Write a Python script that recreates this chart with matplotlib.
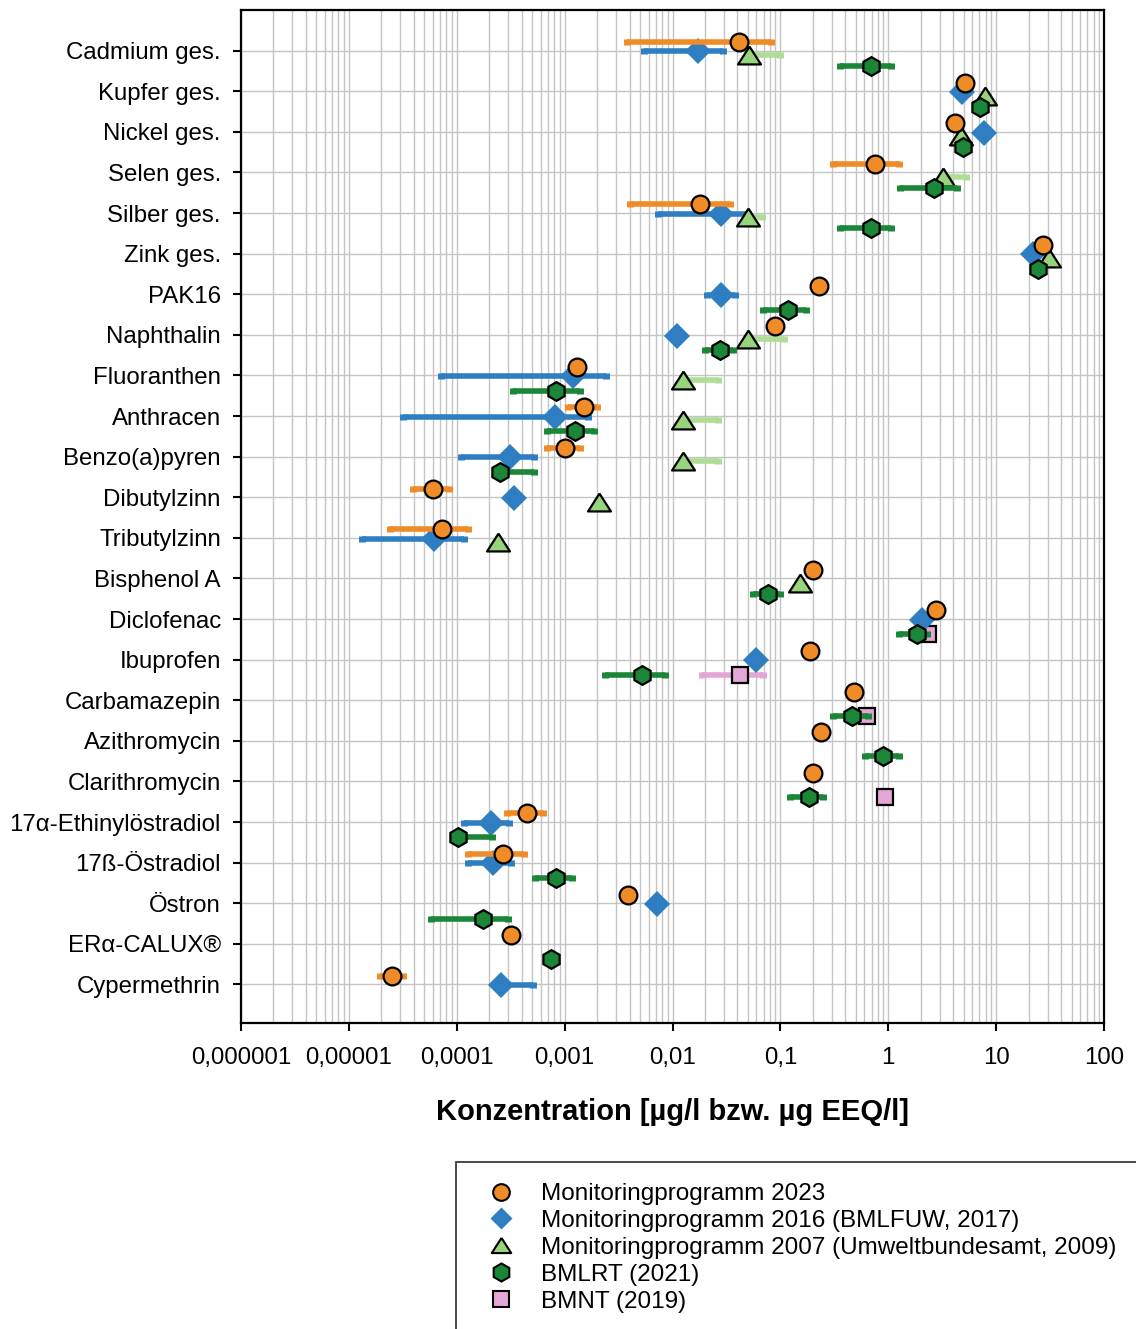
import numpy as np
import matplotlib.pyplot as plt
from matplotlib.lines import Line2D
from matplotlib.patches import Rectangle
from matplotlib.ticker import LogLocator, NullFormatter

plt.rcParams['font.family'] = ['Liberation Sans', 'DejaVu Sans']

n = np.nan

substances = ["Cadmium ges.", "Kupfer ges.", "Nickel ges.", "Selen ges.", "Silber ges.",
              "Zink ges.", "PAK16", "Naphthalin", "Fluoranthen", "Anthracen",
              "Benzo(a)pyren", "Dibutylzinn", "Tributylzinn", "Bisphenol A", "Diclofenac",
              "Ibuprofen", "Carbamazepin", "Azithromycin", "Clarithromycin",
              "17α-Ethinylöstradiol", "17ß-Östradiol", "Östron", "ERα-CALUX®", "Cypermethrin"]

# Monitoringprogramm 2023 (mean, min, max) in µg/l
mp2023 = [0.041, 5.2, 4.2, 0.75, 0.018, 27, 0.23, 0.089, 0.0013, 0.0015,
          0.00101, 6.05e-5, 7.35e-5, 0.20, 2.76, 0.19, 0.48, 0.24, 0.20,
          0.00045, 0.00027, 0.0039, 0.00032, 2.52e-5]
mp2023_lo = [0.0038, n, n, 0.31, 0.0040, n, n, n, n, 0.00108,
             0.00068, 3.9e-5, 2.4e-5, n, n, n, n, n, n,
             0.00029, 0.000128, n, n, 1.94e-5]
mp2023_hi = [0.082, n, n, 1.26, 0.034, n, n, n, n, 0.00198,
             0.00139, 8.5e-5, 0.000128, n, n, n, n, n, n,
             0.00063, 0.00042, n, n, 3.2e-5]

# Monitoringprogramm 2016 (BMLFUW, 2017)
mp2016 = [0.0171, 4.78, 7.74, n, 0.028, 22, 0.028, 0.0111, 0.0012, 0.00081,
          0.00031, 0.00034, 6.2e-5, n, 2.04, 0.060, n, n, n,
          0.000206, 0.000218, 0.0072, n, 0.000257]
mp2016_lo = [0.0055, n, n, n, 0.0074, n, 0.0207, n, 7.15e-5, 3.2e-5,
             0.000109, n, 1.31e-5, n, n, n, n, n, n,
             0.000117, 0.000128, n, n, 0.000257]
mp2016_hi = [0.0295, n, n, n, 0.050, n, 0.0378, n, 0.0024, 0.00166,
             0.00052, n, 0.000117, n, n, n, n, n, n,
             0.000307, 0.000316, n, n, 0.00051]

# Monitoringprogramm 2007 (Umweltbundesamt, 2009)
mp2007 = [0.051, 7.86, 4.71, 3.23, 0.050, 31, n, 0.050, 0.0125, 0.0125,
          0.0125, 0.00208, 0.000243, 0.152, n, n, n, n, n,
          n, n, n, n, n]
mp2007_lo = [0.051, n, n, 3.23, 0.050, n, n, 0.050, 0.0125, 0.0125,
             0.0125, n, n, n, n, n, n, n, n,
             n, n, n, n, n]
mp2007_hi = [0.099, n, n, 5.3, 0.067, n, n, 0.107, 0.0266, 0.0266,
             0.0266, n, n, n, n, n, n, n, n,
             n, n, n, n, n]

# BMLRT (2021)
bmlrt = [0.69, 7.06, 4.95, 2.67, 0.69, 24.2, 0.117, 0.0275, 0.00084, 0.00124,
         0.00025, n, n, 0.076, 1.83, 0.0052, 0.463, 0.897, 0.185,
         0.000102, 0.00084, 0.000174, 0.00074, n]
bmlrt_lo = [0.356, n, n, 1.28, 0.356, n, 0.069, 0.0199, 0.00033, 0.00068,
            0.00025, n, n, 0.056, 1.26, 0.00237, 0.308, 0.607, 0.122,
            0.000102, 0.00053, 5.77e-5, n, n]
bmlrt_hi = [1.07, n, n, 4.3, 1.07, n, 0.171, 0.0367, 0.00139, 0.00187,
            0.00052, n, n, 0.099, 2.3, 0.0085, 0.65, 1.27, 0.25,
            0.000213, 0.00117, 0.0003, n, n]

# BMNT (2019)
bmnt = [n] * 14 + [2.34, 0.0422, 0.638, n, 0.929] + [n] * 5
bmnt_lo = [n] * 15 + [0.0186] + [n] * 8
bmnt_hi = [n] * 15 + [0.0684] + [n] * 8

labels = ["Monitoringprogramm 2023", "Monitoringprogramm 2016 (BMLFUW, 2017)",
          "Monitoringprogramm 2007 (Umweltbundesamt, 2009)", "BMLRT (2021)", "BMNT (2019)"]

c_orange = '#F08C28'
c_blue = '#2E7EC1'
c_lgreen = '#98D47C'
c_lgreen_bar = '#AEDD94'
c_dgreen = '#1B8538'
c_pink = '#E4A6D6'

# flat triangle (closed path)
tri = [(0, 0.78), (-1, -0.78), (1, -0.78), (0, 0.78)]


def draw_series(ax, vals, lo, hi, offset, color, bar_color, marker, ms, mec, z):
    vals = np.array(vals, float)
    lo = np.array(lo, float)
    hi = np.array(hi, float)
    y = np.arange(len(vals)) + offset
    has = ~np.isnan(lo)
    if has.any():
        ax.errorbar(vals[has], y[has], xerr=[vals[has] - lo[has], hi[has] - vals[has]],
                    fmt='none', ecolor=bar_color, elinewidth=4, capsize=2.5,
                    capthick=5, zorder=z)
    ax.plot(vals, y, ls='none', marker=marker, ms=ms, mfc=color, mec=mec,
            mew=1.6, zorder=z + 0.5)


fig = plt.figure(figsize=(11.36, 13.29), dpi=100)
ax = fig.add_axes([241 / 1136, 1 - 1023 / 1329, 863 / 1136, 1013 / 1329])

draw_series(ax, bmnt, bmnt_lo, bmnt_hi, 0.38, c_pink, c_pink, 's', 11.5, 'black', 2)
draw_series(ax, mp2016, mp2016_lo, mp2016_hi, 0.02, c_blue, c_blue, 'D', 13.3, 'none', 3)
draw_series(ax, mp2007, mp2007_lo, mp2007_hi, 0.11, c_lgreen, c_lgreen_bar, tri, 16.5, 'black', 4)
draw_series(ax, bmlrt, bmlrt_lo, bmlrt_hi, 0.38, c_dgreen, c_dgreen, 'h', 13.5, 'black', 5)
draw_series(ax, mp2023, mp2023_lo, mp2023_hi, -0.21, c_orange, c_orange, 'o', 12.8, 'black', 6)

ax.set_xscale('log')
ax.set_xlim(1e-6, 100)
ax.set_ylim(23.95, -1.0)

xticks = [1e-6, 1e-5, 1e-4, 1e-3, 1e-2, 1e-1, 1, 10, 100]
xticklabels = ["0,000001", "0,00001", "0,0001", "0,001", "0,01", "0,1", "1", "10", "100"]
ax.set_xticks(xticks, xticklabels)
ax.xaxis.set_minor_locator(LogLocator(base=10, subs=np.arange(2, 10)))
ax.xaxis.set_minor_formatter(NullFormatter())
ax.set_yticks(np.arange(len(substances)), substances)

ax.tick_params(axis='x', which='major', direction='out', length=6, width=1.5,
               labelsize=17.3, pad=11.5)
ax.tick_params(axis='x', which='minor', length=0)
ax.tick_params(axis='y', direction='out', length=5.5, width=1.5, labelsize=17.3, pad=9)

ax.grid(True, which='both', axis='x', color='#C4C4C4', lw=1.0, zorder=0)
ax.grid(True, which='major', axis='y', color='#C4C4C4', lw=1.0, zorder=0)
ax.set_axisbelow(True)
for sp in ax.spines.values():
    sp.set_linewidth(1.6)
    sp.set_color('black')

ax.set_xlabel("Konzentration [µg/l bzw. µg EEQ/l]", fontsize=21, fontweight='bold',
              labelpad=21)

handles = [
    Line2D([], [], ls='none', marker='o', ms=12, mfc=c_orange, mec='black', mew=1.5),
    Line2D([], [], ls='none', marker='D', ms=11, mfc=c_blue, mec='none'),
    Line2D([], [], ls='none', marker=tri, ms=14, mfc=c_lgreen, mec='black', mew=1.5),
    Line2D([], [], ls='none', marker='h', ms=13, mfc=c_dgreen, mec='black', mew=1.5),
    Line2D([], [], ls='none', marker='s', ms=11, mfc=c_pink, mec='black', mew=1.5),
]
fig.legend(handles, labels, loc='upper left', bbox_to_anchor=(489 / 1136, 1 - 1183 / 1329),
           frameon=False, borderaxespad=0, borderpad=0, handlelength=1.0,
           handletextpad=1.15, labelspacing=0.2, fontsize=17.5)

fig.add_artist(Rectangle((456 / 1136, -0.02), 0.7, 0.02 + 1 - 1162 / 1329,
                         transform=fig.transFigure, fill=False, edgecolor='#3A3A3A',
                         lw=1.3))

plt.savefig("out.png", dpi=100)
